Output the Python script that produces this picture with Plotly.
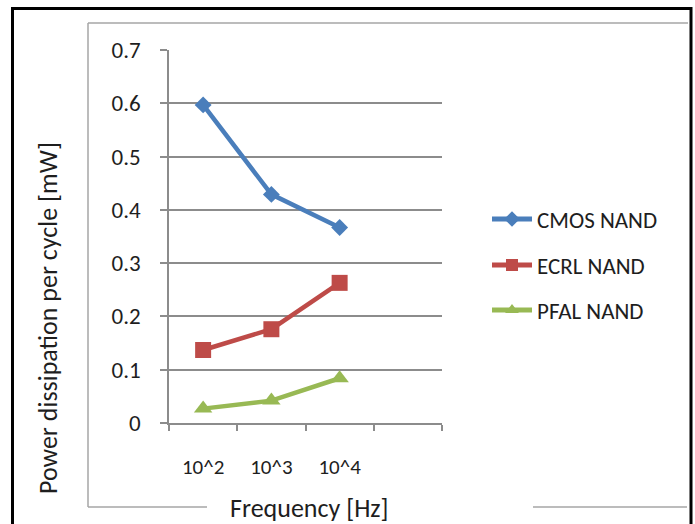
import plotly.graph_objects as go

# Frequency categories (last slot is an empty category, as on the axis)
categories = ["10^2", "10^3", "10^4"]
axis_slots = ["10^2", "10^3", "10^4", " "]

cmos_nand = [0.597, 0.429, 0.367]
ecrl_nand = [0.137, 0.176, 0.263]
pfal_nand = [0.027, 0.042, 0.084]

series_names = ["CMOS NAND", "ECRL NAND", "PFAL NAND"]
series_colors = ["#4A7EBB", "#BE4B48", "#98B954"]
series_symbols = ["diamond", "square", "triangle-up"]
series_sizes = [13, 16, 16]

y_ticks = [0, 0.1, 0.2, 0.3, 0.4, 0.5, 0.6, 0.7]

FONT = "Carlito, Calibri, Lato, sans-serif"
TEXT = "#1E1E1E"
W, H = 695, 524
L, R, T, B = 169, 442, 50, 423  # plot area in pixels


def px(x):
    return (x - L) / (R - L)


def py(y):
    return (B - y) / (B - T)


fig = go.Figure()
legend_ids = ["legend", "legend2", "legend3"]
for vals, name, col, sym, sz, lg in zip(
    [cmos_nand, ecrl_nand, pfal_nand], series_names, series_colors,
    series_symbols, series_sizes, legend_ids
):
    fig.add_trace(go.Scatter(
        x=categories, y=vals, name=name, mode="lines+markers",
        line=dict(color=col, width=4.5),
        marker=dict(symbol=sym, size=sz, color=col),
        legend=lg, showlegend=True,
    ))

legend_rows = [219, 265, 310]
legend_common = dict(
    font=dict(family=FONT, size=23, color=TEXT),
    bgcolor="rgba(0,0,0,0)", borderwidth=0,
    xanchor="left", yanchor="middle", itemwidth=40,
    itemsizing="constant",
    x=px(487),
)
fig.update_layout(
    showlegend=True,
    legend=dict(y=py(legend_rows[0]), **legend_common),
    legend2=dict(y=py(legend_rows[1]), **legend_common),
    legend3=dict(y=py(legend_rows[2]), **legend_common),
)

grid_gray = "#8C8C8C"
fig.update_layout(
    width=W, height=H,
    margin=dict(l=L, r=W - R, t=T, b=H - B),
    paper_bgcolor="white", plot_bgcolor="white",
    font=dict(family=FONT, size=21, color=TEXT),
    xaxis=dict(
        type="category", categoryorder="array", categoryarray=axis_slots,
        range=[-0.5, 3.5], tickson="boundaries",
        ticks="outside", ticklen=6, tickcolor=grid_gray, tickwidth=1.5,
        showgrid=False, showline=True, linecolor=grid_gray, linewidth=1.5,
        ticklabelstandoff=24, tickfont=dict(size=21),
        zeroline=False, fixedrange=True,
    ),
    yaxis=dict(
        range=[0, 0.7], tickvals=y_ticks,
        ticktext=[f"{v:g}" for v in y_ticks],
        ticks="outside", ticklen=7, tickcolor=grid_gray, tickwidth=1.5,
        showgrid=True, gridcolor=grid_gray, gridwidth=1.5,
        showline=True, linecolor=grid_gray, linewidth=1.5,
        ticklabelstandoff=15, tickfont=dict(size=23),
        zeroline=False, fixedrange=True,
    ),
)

# Axis titles
fig.add_annotation(
    text="Frequency [Hz]", x=px(309), y=py(508), xref="paper", yref="paper",
    xanchor="center", yanchor="middle",
    showarrow=False, font=dict(family=FONT, size=26, color=TEXT),
)
fig.add_annotation(
    text="Power dissipation per cycle [mW]", x=px(48), y=py(318),
    xref="paper", yref="paper", xanchor="center", yanchor="middle",
    textangle=-90, showarrow=False,
    font=dict(family=FONT, size=26, color=TEXT),
)

# Inner frame around the plot area (open where the x title sits)
frame = dict(color="#A6A6A6", width=1.5)
for x0, y0, x1, y1 in [
    (88, 23, 688, 23),
    (88, 23, 88, 507),
    (88, 507, 207, 507),
    (533, 507, 687, 507),
]:
    fig.add_shape(type="line", xref="paper", yref="paper",
                  x0=px(x0), y0=py(y0), x1=px(x1), y1=py(y1), line=frame)

# Outer black border
fig.add_shape(type="rect", xref="paper", yref="paper",
              x0=px(12.5), y0=py(8.5), x1=px(691), y1=py(540),
              line=dict(color="black", width=3))

fig.write_html("out.html")
